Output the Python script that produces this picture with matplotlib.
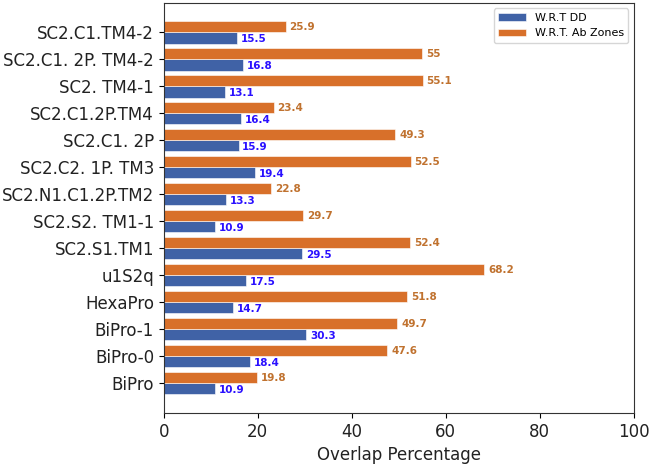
import matplotlib
matplotlib.use("Agg")
import matplotlib.pyplot as plt
import numpy as np

categories = ["BiPro", "BiPro-0", "BiPro-1", "HexaPro", "u1S2q", "SC2.S1.TM1",
              "SC2.S2. TM1-1", "SC2.N1.C1.2P.TM2", "SC2.C2. 1P. TM3", "SC2.C1. 2P",
              "SC2.C1.2P.TM4", "SC2. TM4-1", "SC2.C1. 2P. TM4-2", "SC2.C1.TM4-2"]
wrt_dd = [10.9, 18.4, 30.3, 14.7, 17.5, 29.5, 10.9, 13.3, 19.4, 15.9, 16.4, 13.1, 16.8, 15.5]
wrt_ab = [19.8, 47.6, 49.7, 51.8, 68.2, 52.4, 29.7, 22.8, 52.5, 49.3, 23.4, 55.1, 55, 25.9]

blue = "#4062a6"
orange = "#d8702a"

fig = plt.figure(figsize=(6.5, 4.65), dpi=100)
ax = fig.add_axes([0.252, 0.112, 0.723, 0.882])

y = np.arange(len(categories))
h = 0.41
ax.barh(y - h / 2, wrt_dd, height=h, color=blue, edgecolor="white", linewidth=0.4, label="W.R.T DD")
ax.barh(y + h / 2, wrt_ab, height=h, color=orange, edgecolor="white", linewidth=0.4, label="W.R.T. Ab Zones")

for yi, v in zip(y, wrt_dd):
    ax.text(v + 0.8, yi - h / 2 - 0.05, f"{v:g}", color="#2a10ff", fontsize=7.5,
            fontweight="bold", va="center", ha="left")
for yi, v in zip(y, wrt_ab):
    ax.text(v + 0.8, yi + h / 2, f"{v:g}", color="#c0722f", fontsize=7.5,
            fontweight="bold", va="center", ha="left")

ax.set_yticks(y)
ax.set_yticklabels(categories, fontsize=12, color="#222222")
ax.set_xlim(0, 100)
ax.set_xticks([0, 20, 40, 60, 80, 100])
ax.tick_params(axis="x", labelsize=12, labelcolor="#222222")
ax.set_xlabel("Overlap Percentage", fontsize=12, color="#222222")
for s in ax.spines.values():
    s.set_color("#333333")
ax.legend(loc="upper right", fontsize=8, handlelength=2.5)

fig.savefig("out.png", dpi=100)
